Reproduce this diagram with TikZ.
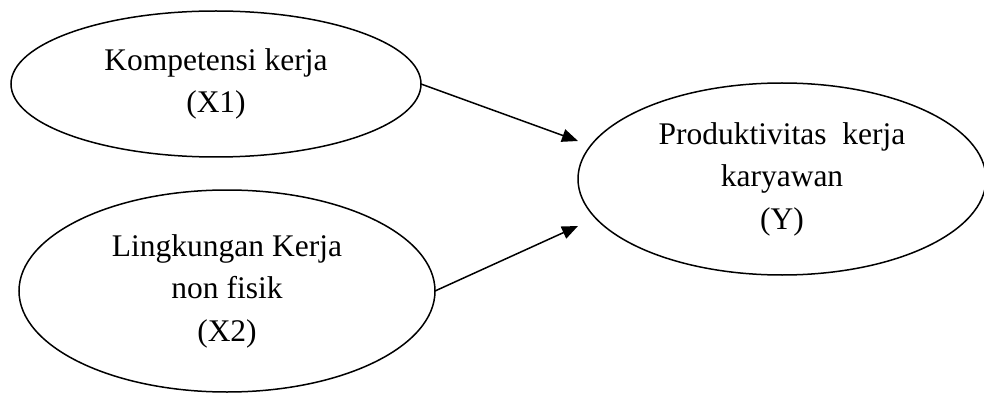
\documentclass[tikz,border=0pt]{standalone}
\usepackage{fontspec}
\setmainfont{Liberation Serif}
\usetikzlibrary{shapes.geometric,arrows.meta}
\begin{document}
\begin{tikzpicture}[x=1pt,y=1pt,
  var/.style={ellipse,draw,line width=1.5pt,inner sep=0pt,outer sep=0pt,align=center,
    font=\fontsize{31.5}{42.5}\selectfont},
  conn/.style={line width=1.5pt,-{Triangle[length=16pt,width=13pt]}}]
\useasboundingbox (0,0) rectangle (984,394);
\node[var,minimum width=410pt,minimum height=146pt] (x1) at (216,310) {Kompetensi kerja\\(X1)};
\node[var,minimum width=416pt,minimum height=202pt] (x2) at (227,103) {Lingkungan Kerja\\non fisik\\(X2)};
\node[var,minimum width=408pt,minimum height=192pt] (y) at (782,215) {Produktivitas\ \ kerja\\karyawan\\(Y)};
\coordinate (t1) at (578,253);
\coordinate (t2) at (578,168);
\draw[conn] (x1.east) -- (t1);
\draw[conn] (x2.east) -- (t2);
\end{tikzpicture}
\end{document}
